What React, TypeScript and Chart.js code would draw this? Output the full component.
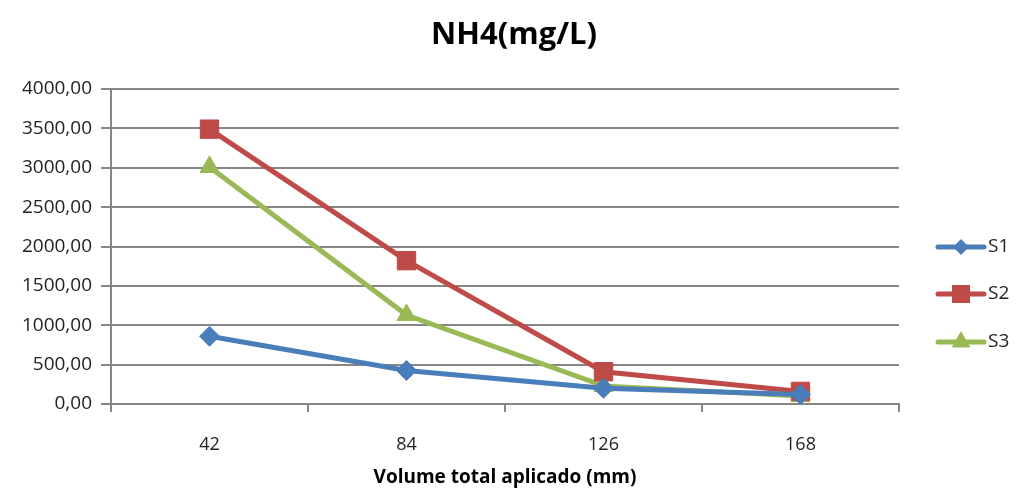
import React, { useEffect, useRef } from "react";
import { Chart, registerables } from "chart.js";

Chart.register(...registerables);

const categories = ["42", "84", "126", "168"];
const s1Values = [860, 425, 200, 120];
const s2Values = [3490, 1820, 410, 160];
const s3Values = [3010, 1130, 230, 100];
const seriesNames = ["S1", "S2", "S3"];
const yTicks = [0, 500, 1000, 1500, 2000, 2500, 3000, 3500, 4000];

const colors = ["#4A7EBB", "#BE4B48", "#98B954"];
const styles = ["rectRot", "rect", "triangle"];
const radii = [10, 13, 11];

const FONT = "'Open Sans', sans-serif";

function drawMarker(ctx: CanvasRenderingContext2D, kind: string, x: number, y: number, color: string) {
  ctx.save();
  ctx.fillStyle = color;
  ctx.beginPath();
  if (kind === "rectRot") {
    const r = 8;
    ctx.moveTo(x, y - r);
    ctx.lineTo(x + r, y);
    ctx.lineTo(x, y + r);
    ctx.lineTo(x - r, y);
  } else if (kind === "rect") {
    const h = 9;
    ctx.rect(x - h, y - h, 2 * h, 2 * h);
  } else {
    const r = 11;
    const hw = (r * Math.sqrt(3)) / 2;
    ctx.moveTo(x, y - r);
    ctx.lineTo(x + hw, y + r / 2);
    ctx.lineTo(x - hw, y + r / 2);
  }
  ctx.closePath();
  ctx.fill();
  ctx.restore();
}

const legendPlugin = {
  id: "sideLegend",
  afterDraw(chart: any) {
    const ctx = chart.ctx;
    const ys = [247, 294, 342];
    chart.data.datasets.forEach((ds: any, i: number) => {
      const y = ys[i];
      ctx.save();
      ctx.strokeStyle = ds.borderColor;
      ctx.lineWidth = 5;
      ctx.lineCap = "round";
      ctx.beginPath();
      ctx.moveTo(938, y);
      ctx.lineTo(984, y);
      ctx.stroke();
      ctx.restore();
      drawMarker(ctx, styles[i], 961, y, ds.borderColor);
      ctx.save();
      ctx.fillStyle = "#222";
      ctx.font = "19px " + FONT;
      ctx.textBaseline = "middle";
      ctx.fillText(ds.label, 988, y);
      ctx.restore();
    });
  },
};

const titlePlugin = {
  id: "topTitle",
  afterDraw(chart: any) {
    const ctx = chart.ctx;
    ctx.save();
    ctx.fillStyle = "#000";
    ctx.font = "bold 31px " + FONT;
    ctx.textAlign = "center";
    ctx.textBaseline = "middle";
    ctx.fillText("NH4(mg/L)", 514, 35);
    ctx.restore();
  },
};

export default function App() {
  const ref = useRef<HTMLCanvasElement>(null);
  useEffect(() => {
    document.body.style.margin = "0";
    const values = [s1Values, s2Values, s3Values];
    const chart = new Chart(ref.current!, {
      type: "line",
      data: {
        labels: categories,
        datasets: seriesNames.map((name, i) => ({
          label: name,
          data: values[i],
          borderColor: colors[i],
          backgroundColor: colors[i],
          borderWidth: 5,
          pointStyle: styles[i] as any,
          pointRadius: radii[i],
          pointBorderWidth: 1,
          tension: 0,
        })),
      },
      options: {
        animation: false,
        responsive: false,
        layout: { padding: { top: 89, left: 0, right: 117, bottom: 0 } },
        plugins: {
          legend: { display: false },
          title: { display: false },
          tooltip: { enabled: false },
        },
        scales: {
          x: {
            type: "category",
            offset: true,
            grid: {
              display: true,
              offset: true,
              drawOnChartArea: false,
              drawTicks: true,
              tickLength: 8,
              color: "#868686",
              lineWidth: 2,
            },
            border: { display: true, color: "#868686", width: 2 },
            ticks: {
              color: "#222",
              font: { family: FONT, size: 18 },
              padding: 22,
            },
            title: {
              display: true,
              text: "Volume total aplicado (mm)",
              color: "#000",
              font: { family: FONT, size: 19, weight: "bold" },
              padding: { top: 6, bottom: 5 },
            },
            afterFit: (scale: any) => {
              scale.height = 90;
            },
          },
          y: {
            min: 0,
            max: 4000,
            afterBuildTicks: (scale: any) => {
              scale.ticks = yTicks.map((v) => ({ value: v }));
            },
            grid: {
              color: "#868686",
              lineWidth: 2,
              drawTicks: true,
              tickLength: 10,
            },
            border: { display: true, color: "#868686", width: 2 },
            ticks: {
              color: "#222",
              font: { family: FONT, size: 19 },
              padding: 9,
              callback: (v: any) => Number(v).toFixed(2).replace(".", ","),
            },
            afterFit: (scale: any) => {
              scale.width = 111;
            },
          },
        },
      },
      plugins: [legendPlugin, titlePlugin],
    });
    return () => chart.destroy();
  }, []);
  return <canvas ref={ref} width={1016} height={494} />;
}
